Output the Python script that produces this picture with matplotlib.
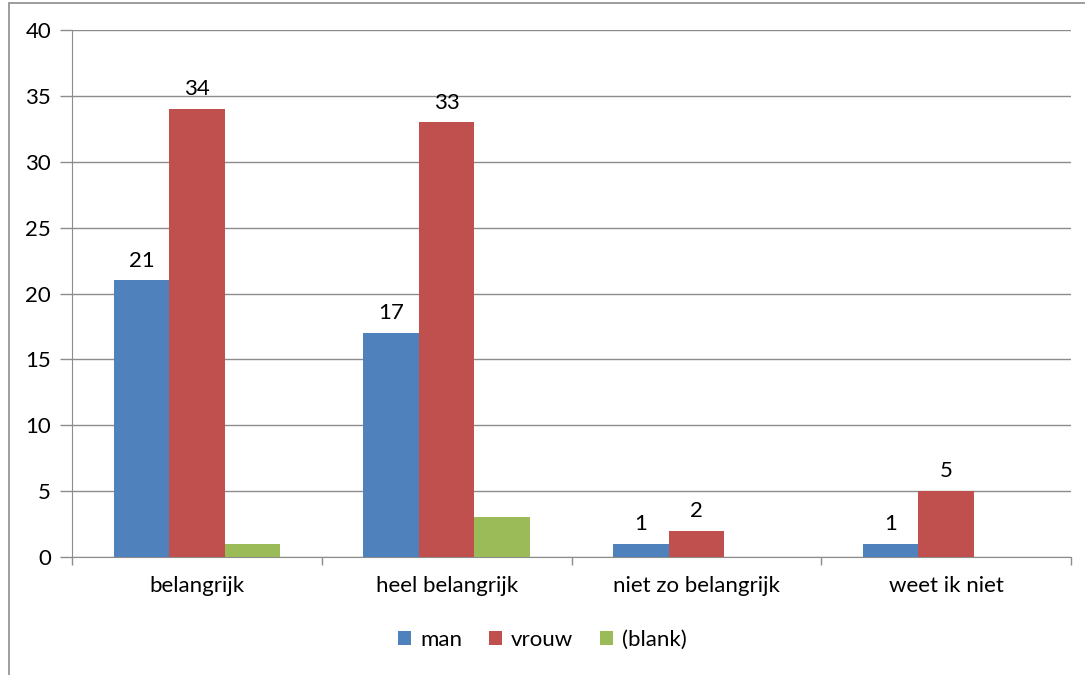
import numpy as np
import matplotlib.pyplot as plt
from matplotlib.patches import Rectangle

categories = ['belangrijk', 'heel belangrijk', 'niet zo belangrijk', 'weet ik niet']
man = [21, 17, 1, 1]
vrouw = [34, 33, 2, 5]
blank = [1, 3, 0, 0]
series_names = ['man', 'vrouw', '(blank)']
colors = ['#4F81BD', '#C0504D', '#9BBB59']
show_labels = [True, True, False]

plt.rcParams['font.family'] = ['Lato', 'DejaVu Sans']
fs = 16

fig = plt.figure(figsize=(10.85, 6.75), dpi=100)
ax = fig.add_axes([72 / 1085, 1 - 557 / 675, (1071 - 72) / 1085, (557 - 30) / 675])

# chart frame (left and top edges visible)
fig.add_artist(Rectangle((9 / 1085, -0.1), 1.2, 1 - 3 / 675 + 0.1, transform=fig.transFigure,
                         fill=False, edgecolor='#8c8c8c', lw=1.2))

x = np.arange(len(categories))
w = 1 / 4.5
for i, (vals, name, c, lab) in enumerate(zip([man, vrouw, blank], series_names, colors, show_labels)):
    bars = ax.bar(x + (i - 1) * w, vals, w, color=c, label=name, zorder=3)
    if lab:
        ax.bar_label(bars, padding=7, fontsize=fs)

ax.set_xlim(-0.5, len(categories) - 0.5)
ax.set_ylim(0, 40)
ax.set_yticks(range(0, 41, 5))
ax.yaxis.grid(True, color='#8c8c8c', lw=1)
ax.set_axisbelow(True)
ax.set_xticks(x)
ax.set_xticklabels(categories)
ax.set_xticks(np.arange(-0.5, len(categories)), minor=True)
ax.tick_params(axis='x', which='major', length=0, pad=14, labelsize=fs)
ax.tick_params(axis='x', which='minor', length=6, color='#8c8c8c', width=1)
ax.tick_params(axis='y', length=9, color='#8c8c8c', width=1, labelsize=fs, pad=6)
for s in ['top', 'right']:
    ax.spines[s].set_visible(False)
for s in ['left', 'bottom']:
    ax.spines[s].set_color('#8c8c8c')

ax.legend(loc='center', bbox_to_anchor=(0.5, (675 - 640) / 675), bbox_transform=fig.transFigure,
          ncol=3, frameon=False, fontsize=fs, handlelength=0.6, handleheight=0.6,
          handletextpad=0.4, columnspacing=1.2)

fig.savefig('out.png', dpi=100)
